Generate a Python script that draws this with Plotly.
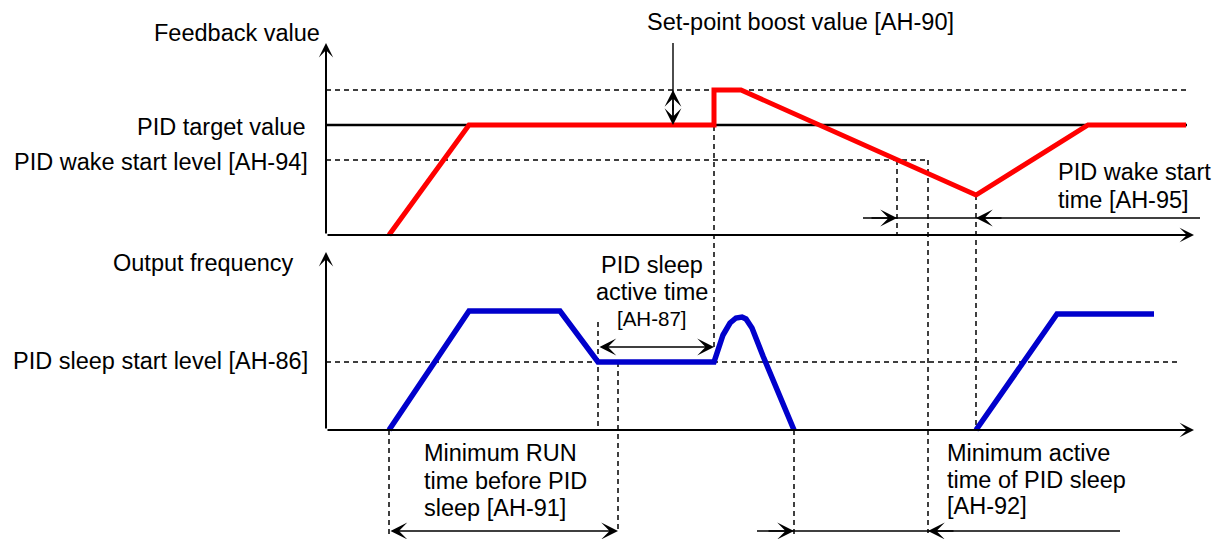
import plotly.graph_objects as go

# time (x) and level (y) positions, y grows downwards
FONT = dict(family="Liberation Sans, Arial, sans-serif", size=23.5, color="black")

fb_t = [389, 469, 714, 714, 741, 976, 1088, 1186]
fb_y = [235, 125, 125, 90, 90, 195, 125, 125]

freq_t = [389, 469, 560, 598, 714, 718, 723, 730, 736, 742, 746, 752, 758, 763, 794]
freq_y = [430, 311, 311, 362, 362, 348, 335, 323, 318, 317, 319, 328, 342, 356, 430]
freq2_t = [976, 1057, 1154]
freq2_y = [430, 314, 314]

target_t = [326, 1187]
target_y = [125, 125]

# dashed guide segments: (x0, y0, x1, y1)
guides = [
    (326, 90, 1187, 90),
    (326, 160, 928, 160),
    (928, 160, 928, 533),
    (714, 90, 714, 347),
    (897, 160, 897, 235),
    (976, 195, 976, 430),
    (326, 362, 1178, 362),
    (598, 322, 598, 430),
    (618, 362, 618, 533),
    (389, 430, 389, 534),
    (794, 430, 794, 535),
]

# axes: (x0, y0, x1, y1), arrow at the second point
axes = [
    (326, 235, 326, 43),
    (326, 235, 1194, 235),
    (326, 430, 326, 252),
    (326, 430, 1194, 430),
]

# plain solid segments for the dimension lines
dims = [
    (673, 43, 673, 125),
    (863, 218, 1200, 218),
    (757, 531, 1120, 531),
]
# arrow heads: (tip_x, tip_y, tail_x, tail_y)
heads = [
    (673, 90, 673, 112),
    (673, 125, 673, 103),
    (897, 218, 870, 218),
    (976, 218, 1003, 218),
    (794, 531, 767, 531),
    (928, 531, 955, 531),
]
# double arrows
double_arrows = [
    (598, 347, 714, 347),
    (389, 531, 618, 531),
]

labels_right = [
    ("Feedback value", 322, 33),
    ("PID target value", 308, 127),
    ("PID wake start level [AH-94]", 310, 162),
    ("Output frequency", 296, 263),
    ("PID sleep start level [AH-86]", 310, 361),
]
labels_left = [
    ("Set-point boost value [AH-90]", 645, 22),
    ("PID wake start", 1056, 172),
    ("time [AH-95]", 1056, 200),
    ("Minimum RUN", 422, 453),
    ("time before PID", 422, 481),
    ("sleep [AH-91]", 422, 508),
    ("Minimum active", 945, 453),
    ("time of PID sleep", 945, 480),
    ("[AH-92]", 945, 506),
]
labels_center = [
    ("PID sleep", 652, 265, 23.5),
    ("active time", 652, 292, 23.5),
    ("[AH-87]", 652, 318, 20.5),
]


def seg_xy(segs):
    xs, ys = [], []
    for x0, y0, x1, y1 in segs:
        xs += [x0, x1, None]
        ys += [y0, y1, None]
    return xs, ys


fig = go.Figure()

gx, gy = seg_xy(guides)
fig.add_trace(go.Scatter(x=gx, y=gy, mode="lines",
                         line=dict(color="black", width=1.5, dash="5px,4px"), hoverinfo="skip"))
fig.add_trace(go.Scatter(x=target_t, y=target_y, mode="lines",
                         line=dict(color="black", width=2.5), hoverinfo="skip"))
dx, dy = seg_xy(dims)
fig.add_trace(go.Scatter(x=dx, y=dy, mode="lines",
                         line=dict(color="black", width=1.4), hoverinfo="skip"))
fig.add_trace(go.Scatter(x=fb_t, y=fb_y, mode="lines",
                         line=dict(color="#ff0000", width=5), hoverinfo="skip"))
fig.add_trace(go.Scatter(x=freq_t, y=freq_y, mode="lines",
                         line=dict(color="#0000cc", width=5.5), hoverinfo="skip"))
fig.add_trace(go.Scatter(x=freq2_t, y=freq2_y, mode="lines",
                         line=dict(color="#0000cc", width=5.5), hoverinfo="skip"))

ann = []
for x0, y0, x1, y1 in axes:
    ann.append(dict(x=x1, y=y1, ax=x0, ay=y0, xref="x", yref="y", axref="x", ayref="y",
                    showarrow=True, arrowhead=3, arrowwidth=2, arrowsize=1.2,
                    arrowcolor="black", standoff=0, text=""))
for x1, y1, x0, y0 in heads:
    ann.append(dict(x=x1, y=y1, ax=x0, ay=y0, xref="x", yref="y", axref="x", ayref="y",
                    showarrow=True, arrowhead=3, arrowwidth=1.4, arrowsize=2,
                    arrowcolor="black", standoff=0, text=""))
for x0, y0, x1, y1 in double_arrows:
    ann.append(dict(x=x1, y=y1, ax=x0, ay=y0, xref="x", yref="y", axref="x", ayref="y",
                    showarrow=True, arrowhead=3, startarrowhead=3, arrowside="end+start",
                    arrowwidth=1.4, arrowsize=2, startarrowsize=2,
                    arrowcolor="black", standoff=0, startstandoff=0, text=""))
for txt, x, y in labels_right:
    ann.append(dict(x=x, y=y, xref="x", yref="y", text=txt, showarrow=False,
                    xanchor="right", yanchor="middle", font=FONT))
for txt, x, y in labels_left:
    ann.append(dict(x=x, y=y, xref="x", yref="y", text=txt, showarrow=False,
                    xanchor="left", yanchor="middle", font=FONT))
for txt, x, y, sz in labels_center:
    ann.append(dict(x=x, y=y, xref="x", yref="y", text=txt, showarrow=False,
                    xanchor="center", yanchor="middle", font=dict(FONT, size=sz)))

# the page body adds an 8px margin, so the figure is 8px smaller and its ranges start at 8
fig.update_layout(
    width=1216, height=531,
    margin=dict(l=0, r=0, t=0, b=0),
    paper_bgcolor="white", plot_bgcolor="white",
    showlegend=False,
    xaxis=dict(range=[8, 1224], visible=False, fixedrange=True),
    yaxis=dict(range=[539, 8], visible=False, fixedrange=True),
    annotations=ann,
)

fig.write_html("out.html")
